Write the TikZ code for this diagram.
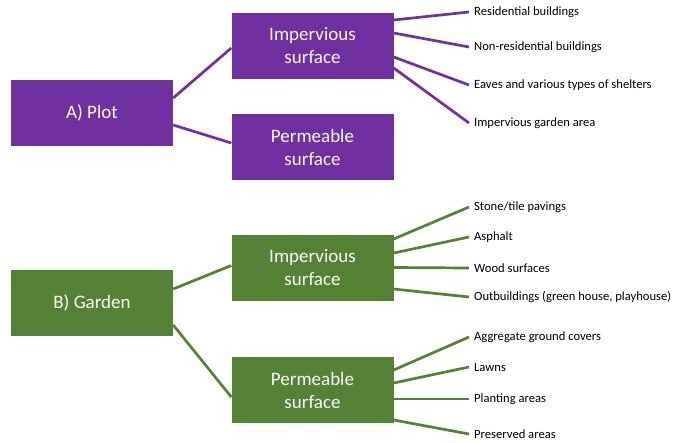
\documentclass[tikz,border=0pt]{standalone}
\usepackage{fontspec}
\setmainfont{Carlito}
\definecolor{plotpurple}{HTML}{7030A0}
\definecolor{gardengreen}{HTML}{548235}
\tikzset{
  box/.style={minimum width=162pt, minimum height=66pt, inner sep=0pt, text=white, align=center, font=\fontsize{19}{23}\selectfont},
  leaf/.style={anchor=west, inner sep=5pt, font=\fontsize{12.6}{14}\selectfont},
  link/.style={line width=2.7pt}
}

\begin{document}
\begin{tikzpicture}[x=1pt,y=-1pt]
\useasboundingbox (0,0) rectangle (675,442);
\node[box, fill=plotpurple] (plot) at (92,113) {A) Plot};
\node[box, fill=plotpurple] (pimp) at (312.5,46) {Impervious\\surface};
\node[box, fill=plotpurple] (pperm) at (312.5,147) {Permeable\\surface};
\node[leaf] (res) at (469,12) {Residential buildings};
\node[leaf] (nonres) at (469,47) {Non-residential buildings};
\node[leaf] (eaves) at (469,85) {Eaves and various types of shelters};
\node[leaf] (igarden) at (469,123) {Impervious garden area};
\draw[link, plotpurple] ([yshift=15pt]plot.east) -- ([yshift=-2pt]pimp.west);
\draw[link, plotpurple] ([yshift=-12pt]plot.east) -- ([yshift=4pt]pperm.west);
\draw[link, plotpurple] ([yshift=26pt]pimp.east) -- (res.west);
\draw[link, plotpurple] ([yshift=13pt]pimp.east) -- (nonres.west);
\draw[link, plotpurple] ([yshift=-11pt]pimp.east) -- (eaves.west);
\draw[link, plotpurple] ([yshift=-22pt]pimp.east) -- (igarden.west);

\node[box, fill=gardengreen] (garden) at (92,303) {B) Garden};
\node[box, fill=gardengreen] (gimp) at (312.5,267.5) {Impervious\\surface};
\node[box, fill=gardengreen] (gperm) at (312.5,390) {Permeable\\surface};
\node[leaf] (stone) at (469,207) {Stone/tile pavings};
\node[leaf] (asphalt) at (469,237) {Asphalt};
\node[leaf] (wood) at (469,268) {Wood surfaces};
\node[leaf] (outb) at (469,297) {Outbuildings (green house, playhouse)};
\node[leaf] (aggr) at (469,337) {Aggregate ground covers};
\node[leaf] (lawns) at (469,367) {Lawns};
\node[leaf] (plant) at (469,399) {Planting areas};
\node[leaf] (pres) at (469,434) {Preserved areas};
\draw[link, gardengreen] ([yshift=14pt]garden.east) -- ([yshift=2pt]gimp.west);
\draw[link, gardengreen] ([yshift=-22pt]garden.east) -- ([yshift=-7pt]gperm.west);
\draw[link, gardengreen] ([yshift=28.5pt]gimp.east) -- (stone.west);
\draw[link, gardengreen] ([yshift=14.5pt]gimp.east) -- (asphalt.west);
\draw[link, gardengreen] ([yshift=0pt]gimp.east) -- (wood.west);
\draw[link, gardengreen] ([yshift=-21.5pt]gimp.east) -- (outb.west);
\draw[link, gardengreen] ([yshift=20pt]gperm.east) -- (aggr.west);
\draw[link, gardengreen] ([yshift=7pt]gperm.east) -- (lawns.west);
\draw[link, gardengreen] ([yshift=-9pt]gperm.east) -- (plant.west);
\draw[link, gardengreen] ([yshift=-30pt]gperm.east) -- (pres.west);
\end{tikzpicture}
\end{document}
